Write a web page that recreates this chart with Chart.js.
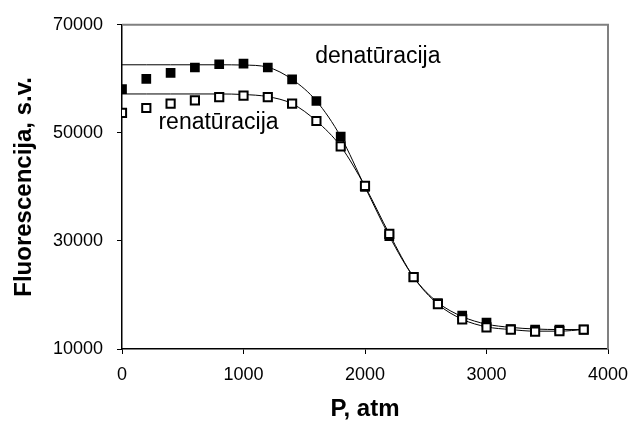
<!DOCTYPE html>
<html>
<head>
<meta charset="utf-8">
<script src="https://cdn.jsdelivr.net/npm/chart.js@4/dist/chart.umd.min.js"></script>
<style>
  html, body { margin: 0; padding: 0; background: #fff; }
  #wrap { width: 634px; height: 424px; }
</style>
</head>
<body>
<div id="wrap"><canvas id="fluoChart" width="634" height="424"></canvas></div>
<script>
// Data
const pressure = [0, 200, 400, 600, 800, 1000, 1200, 1400, 1600, 1800, 2000, 2200, 2400, 2600, 2800, 3000, 3200, 3400, 3600, 3800];
const denatPoints = [58100, 60000, 61100, 62100, 62700, 62800, 62100, 59900, 55900, 49300, 40000, 30900, 23300, 18500, 16200, 14900, 13700, 13600, 13600, 13600];
const renatPoints = [53700, 54600, 55400, 56000, 56600, 56900, 56600, 55400, 52200, 47500, 40200, 31300, 23300, 18300, 15500, 14000, 13600, 13200, 13300, 13600];
// fitted curves
const denatFit = [62600, 62600, 62600, 62600, 62600, 62550, 62150, 59900, 55900, 49300, 40000, 30900, 23300, 18600, 16000, 14600, 14000, 13700, 13600, 13600];
const renatFit = [57200, 57200, 57200, 57200, 57200, 57100, 56700, 55400, 52200, 47500, 40100, 31300, 23300, 18300, 15500, 14100, 13600, 13300, 13300, 13600];
const xTicks = [0, 1000, 2000, 3000, 4000];
const yTicks = [10000, 30000, 50000, 70000];

const FONT = "'Liberation Sans', Arial, sans-serif";

function toXY(ys) {
  return pressure.map((p, i) => ({ x: p, y: ys[i] }));
}

// In-plot labels, anchored in data units
const curveLabels = [
  { text: "denatūracija", x: 1590, y: 62850 },
  { text: "renatūracija", x: 300, y: 50750 },
];

const labelsPlugin = {
  id: "curveLabels",
  afterDatasetsDraw(chart) {
    const { ctx, scales } = chart;
    ctx.save();
    ctx.font = "23px " + FONT;
    ctx.fillStyle = "#000";
    ctx.textAlign = "left";
    ctx.textBaseline = "alphabetic";
    curveLabels.forEach(l => {
      ctx.fillText(l.text, scales.x.getPixelForValue(l.x), scales.y.getPixelForValue(l.y));
    });
    ctx.restore();
  },
};

// grey frame on top and right of the plot
const framePlugin = {
  id: "frame",
  beforeDatasetsDraw(chart) {
    const { ctx, chartArea: a } = chart;
    ctx.save();
    ctx.strokeStyle = "#808080";
    ctx.lineWidth = 2;
    ctx.beginPath();
    ctx.moveTo(a.left, a.top);
    ctx.lineTo(a.right, a.top);
    ctx.lineTo(a.right, a.bottom);
    ctx.stroke();
    ctx.restore();
  },
};

const plainNum = v => String(v);

const ctx = document.getElementById("fluoChart").getContext("2d");
new Chart(ctx, {
  type: "scatter",
  data: {
    datasets: [
      {
        label: "renatūracija",
        data: toXY(renatPoints),
        pointStyle: "rect",
        pointRadius: 5.8,
        pointBackgroundColor: "#fff",
        pointBorderColor: "#000",
        pointBorderWidth: 2,
        showLine: false,
        order: 0,
      },
      {
        label: "denatūracija",
        data: toXY(denatPoints),
        pointStyle: "rect",
        pointRadius: 5.8,
        pointBackgroundColor: "#000",
        pointBorderColor: "#000",
        pointBorderWidth: 1.5,
        showLine: false,
        order: 1,
      },
      {
        label: "renat fit",
        data: toXY(renatFit),
        showLine: true,
        borderColor: "#000",
        borderWidth: 1,
        pointRadius: 0,
        cubicInterpolationMode: "monotone",
        order: 2,
      },
      {
        label: "denat fit",
        data: toXY(denatFit),
        showLine: true,
        borderColor: "#000",
        borderWidth: 1,
        pointRadius: 0,
        cubicInterpolationMode: "monotone",
        order: 3,
      },
    ],
  },
  options: {
    responsive: false,
    animation: false,
    layout: { padding: { left: 0, right: 26, top: 23, bottom: 0 } },
    plugins: {
      legend: { display: false },
      tooltip: { enabled: false },
    },
    scales: {
      x: {
        type: "linear",
        min: 0,
        max: 4000,
        afterBuildTicks: s => { s.ticks = xTicks.map(v => ({ value: v })); },
        afterFit: s => { s.height = 75; s.paddingRight = 0; },
        ticks: { color: "#000", padding: 10, font: { family: FONT, size: 18 }, callback: plainNum },
        grid: { drawOnChartArea: false, drawTicks: true, tickLength: 5, color: "#000", lineWidth: 1 },
        border: { display: true, color: "#000", width: 1.5 },
        title: {
          display: true,
          text: "P, atm",
          color: "#000",
          padding: { top: 0, bottom: 0 },
          font: { family: FONT, size: 24, weight: "bold" },
        },
      },
      y: {
        type: "linear",
        min: 10000,
        max: 70000,
        afterBuildTicks: s => { s.ticks = yTicks.map(v => ({ value: v })); },
        afterFit: s => { s.width = 122; },
        ticks: { color: "#000", padding: 14, font: { family: FONT, size: 18 }, callback: plainNum },
        grid: { drawOnChartArea: false, drawTicks: true, tickLength: 5, color: "#000", lineWidth: 1 },
        border: { display: true, color: "#000", width: 1.5 },
        title: {
          display: true,
          text: "Fluorescencija, s.v.",
          color: "#000",
          padding: { top: 10, bottom: 0 },
          font: { family: FONT, size: 24, weight: "bold" },
        },
      },
    },
  },
  plugins: [framePlugin, labelsPlugin],
});
</script>
</body>
</html>
